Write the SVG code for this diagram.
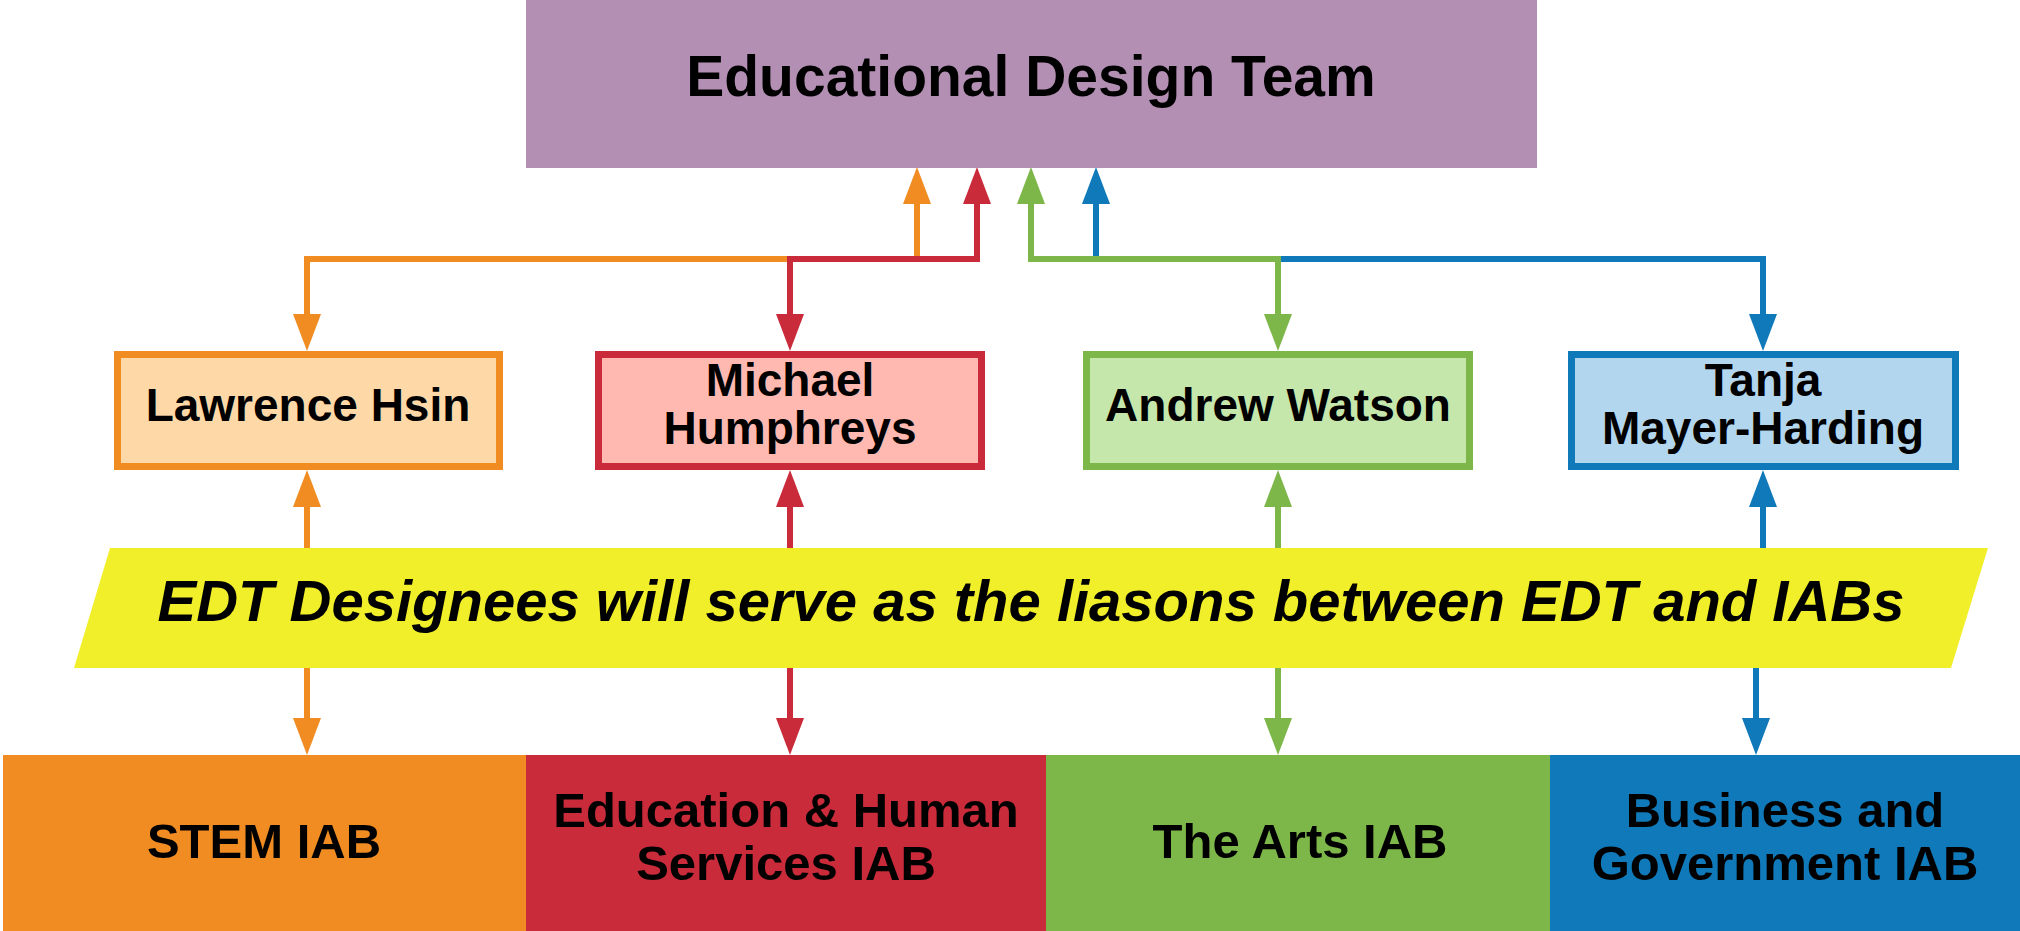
<svg xmlns="http://www.w3.org/2000/svg" width="2020" height="931" viewBox="0 0 2020 931">
<style>
text{font-family:"Liberation Sans",Arial,sans-serif;font-weight:bold;fill:#000;text-anchor:middle}
.c{fill:none;stroke-width:6;stroke-linejoin:miter}
.o{stroke:#F08C22}.r{stroke:#C92B3A}.g{stroke:#7DB649}.b{stroke:#0F79B9}
.person{stroke-width:7}
</style>
<defs>
<marker id="mo" markerUnits="userSpaceOnUse" viewBox="0 -15 40 30" refX="0" refY="0" markerWidth="40" markerHeight="30" orient="auto-start-reverse" overflow="visible"><path d="M0,-14 L37,0 L0,14 Z" fill="#F08C22"/></marker>
<marker id="mr" markerUnits="userSpaceOnUse" viewBox="0 -15 40 30" refX="0" refY="0" markerWidth="40" markerHeight="30" orient="auto-start-reverse" overflow="visible"><path d="M0,-14 L37,0 L0,14 Z" fill="#C92B3A"/></marker>
<marker id="mg" markerUnits="userSpaceOnUse" viewBox="0 -15 40 30" refX="0" refY="0" markerWidth="40" markerHeight="30" orient="auto-start-reverse" overflow="visible"><path d="M0,-14 L37,0 L0,14 Z" fill="#7DB649"/></marker>
<marker id="mb" markerUnits="userSpaceOnUse" viewBox="0 -15 40 30" refX="0" refY="0" markerWidth="40" markerHeight="30" orient="auto-start-reverse" overflow="visible"><path d="M0,-14 L37,0 L0,14 Z" fill="#0F79B9"/></marker>
</defs>
<rect width="2020" height="931" fill="#fff"/>

<g id="connectors">
<path class="c o" d="M917,204 V259 H307 V314" marker-start="url(#mo)" marker-end="url(#mo)"/>
<path class="c r" d="M977,204 V259 H790 V314" marker-start="url(#mr)" marker-end="url(#mr)"/>
<path class="c b" d="M1096,204 V259 H1763 V314" marker-start="url(#mb)" marker-end="url(#mb)"/>
<path class="c g" d="M1031,204 V259 H1278 V314" marker-start="url(#mg)" marker-end="url(#mg)"/>
<path class="c o" d="M307,549 V507" marker-end="url(#mo)"/>
<path class="c o" d="M307,667 V718" marker-end="url(#mo)"/>
<path class="c r" d="M790,549 V507" marker-end="url(#mr)"/>
<path class="c r" d="M790,667 V718" marker-end="url(#mr)"/>
<path class="c g" d="M1278,549 V507" marker-end="url(#mg)"/>
<path class="c g" d="M1278,667 V718" marker-end="url(#mg)"/>
<path class="c b" d="M1763,549 V507" marker-end="url(#mb)"/>
<path class="c b" d="M1756,667 V718" marker-end="url(#mb)"/>
</g>

<g id="edt">
<rect x="526" y="0" width="1011" height="168" fill="#B38FB4"/>
<text x="1031" y="96" font-size="57">Educational Design Team</text>
</g>

<g id="lawrence">
<rect class="person" x="117.5" y="354.5" width="382" height="112" fill="#FED9A7" stroke="#F08C22"/>
<text x="308" y="421" font-size="46">Lawrence Hsin</text>
</g>
<g id="michael">
<rect class="person" x="598.5" y="354.5" width="383" height="112" fill="#FFB9B1" stroke="#C92B3A"/>
<text x="790" y="396" font-size="46">Michael</text>
<text x="790" y="444" font-size="46">Humphreys</text>
</g>
<g id="andrew">
<rect class="person" x="1086.5" y="354.5" width="383" height="112" fill="#C6E7AC" stroke="#7DB649"/>
<text x="1278" y="421" font-size="46">Andrew Watson</text>
</g>
<g id="tanja">
<rect class="person" x="1571.5" y="354.5" width="384" height="112" fill="#B3D6EF" stroke="#0F79B9"/>
<text x="1763" y="396" font-size="46">Tanja</text>
<text x="1763" y="444" font-size="46">Mayer-Harding</text>
</g>

<g id="banner">
<polygon points="110,548 1988,548 1951,668 74,668" fill="#F1EF2A"/>
<text x="1031" y="621" font-size="58" font-style="italic">EDT Designees will serve as the liasons between EDT and IABs</text>
</g>

<g id="stem">
<rect x="3" y="755" width="523" height="176" fill="#F08C22"/>
<text x="264" y="858" font-size="49">STEM IAB</text>
</g>
<g id="ehs">
<rect x="526" y="755" width="520" height="176" fill="#C92B3A"/>
<text x="786" y="827" font-size="49">Education &amp; Human</text>
<text x="786" y="880" font-size="49">Services IAB</text>
</g>
<g id="arts">
<rect x="1046" y="755" width="504" height="176" fill="#7DB649"/>
<text x="1300" y="858" font-size="49">The Arts IAB</text>
</g>
<g id="business">
<rect x="1550" y="755" width="470" height="176" fill="#0F79B9"/>
<text x="1785" y="827" font-size="49">Business and</text>
<text x="1785" y="880" font-size="49">Government IAB</text>
</g>
</svg>
